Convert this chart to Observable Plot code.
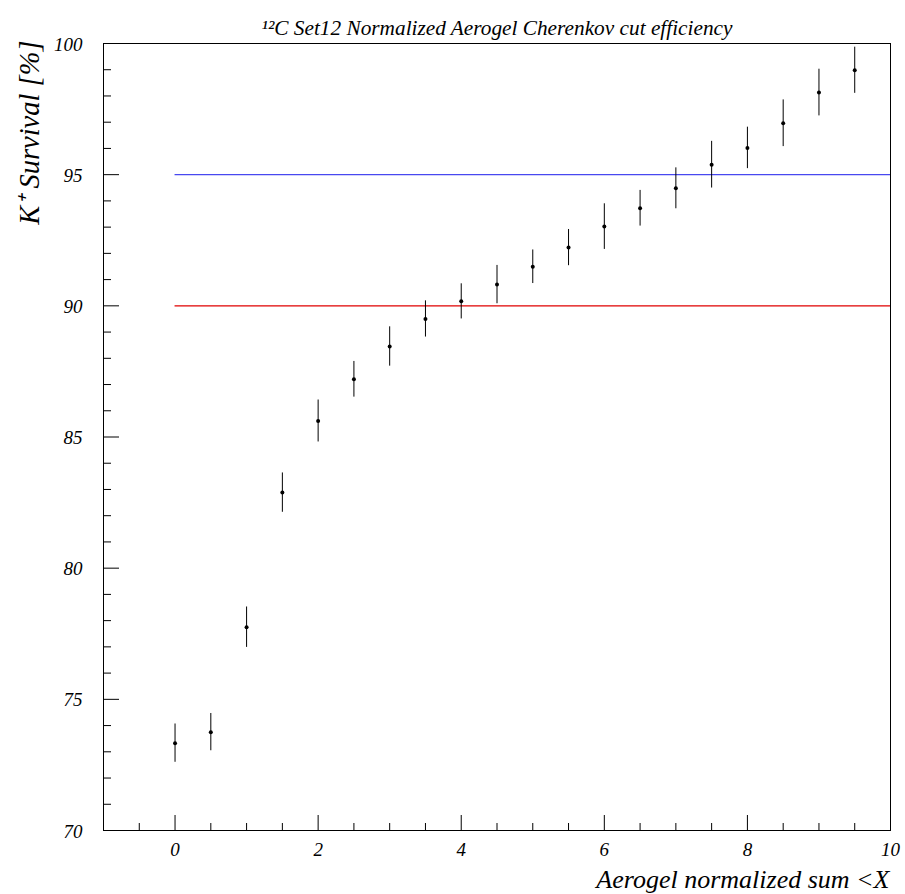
<!DOCTYPE html>
<html><head><meta charset="utf-8">
<script src="https://cdn.jsdelivr.net/npm/d3@7"></script>
<script src="https://cdn.jsdelivr.net/npm/@observablehq/plot@0.6"></script>
<style>
body{margin:0;background:#fff}
#chart svg text{font-family:"Liberation Serif","Times New Roman",Times,serif !important;font-style:italic}
</style>
</head><body><div id="chart"></div>
<script>
const cutX = [0, 0.5, 1, 1.5, 2, 2.5, 3, 3.5, 4, 4.5, 5, 5.5, 6, 6.5, 7, 7.5, 8, 8.5, 9, 9.5];
const survival = [73.33, 73.75, 77.75, 82.88, 85.61, 87.20, 88.45, 89.50, 90.17, 90.81, 91.49, 92.22, 93.02, 93.72, 94.48, 95.38, 96.02, 96.96, 98.13, 98.98];
const survivalErr = [0.73, 0.71, 0.77, 0.75, 0.80, 0.68, 0.75, 0.69, 0.67, 0.73, 0.64, 0.69, 0.87, 0.68, 0.78, 0.89, 0.79, 0.89, 0.89, 0.88];
const xMajorTicks = [0, 2, 4, 6, 8, 10];
const xMinorTicks = [-0.5, 0.5, 1, 1.5, 2.5, 3, 3.5, 4.5, 5, 5.5, 6.5, 7, 7.5, 8.5, 9, 9.5];
const yMajorTicks = [70, 75, 80, 85, 90, 95, 100];
const yMinorTicks = [71, 72, 73, 74, 76, 77, 78, 79, 81, 82, 83, 84, 86, 87, 88, 89, 91, 92, 93, 94, 96, 97, 98, 99];
const lowerLine = [90];
const upperLine = [95];
const titleText = "¹²C Set12 Normalized Aerogel Cherenkov cut efficiency";
const xLabel = "Aerogel normalized sum <X";
const yLabel = "K⁺ Survival [%]";

const data = cutX.map((x, i) => ({x, y: survival[i], e: survivalErr[i]}));
const W = 905, H = 894, mt = 43, mb = 64, ml = 103, mr = 15;
const plotH = H - mt - mb;
const plotW = W - ml - mr;
const font = "'Liberation Serif', 'Times New Roman', Times, serif";

const chart = Plot.plot({
  width: W, height: H,
  marginTop: mt, marginBottom: mb, marginLeft: ml, marginRight: mr,
  x: {domain: [-1, 10], axis: null},
  y: {domain: [70, 100], axis: null},
  style: {fontFamily: font, fontStyle: "italic", background: "#fff", color: "#000"},
  marks: [
    Plot.ruleY(lowerLine, {y: d => d, x1: 0, x2: 10, stroke: "#e00000", strokeWidth: 1.2}),
    Plot.ruleY(upperLine, {y: d => d, x1: 0, x2: 10, stroke: "#4848f0", strokeWidth: 1.2}),
    Plot.ruleX(data, {x: "x", y1: d => d.y - d.e, y2: d => d.y + d.e, stroke: "#000", strokeWidth: 1}),
    Plot.dot(data, {x: "x", y: "y", r: 2, fill: "#000", stroke: null}),
    Plot.tickX(xMajorTicks, {x: d => d, insetTop: plotH - 15, stroke: "#000"}),
    Plot.tickX(xMinorTicks, {x: d => d, insetTop: plotH - 7, stroke: "#000"}),
    Plot.tickY(yMajorTicks, {y: d => d, insetRight: plotW - 16, stroke: "#000"}),
    Plot.tickY(yMinorTicks, {y: d => d, insetRight: plotW - 8, stroke: "#000"}),
    Plot.frame({stroke: "#000", strokeWidth: 1}),
    Plot.text(xMajorTicks, {x: d => d, text: d => String(d), frameAnchor: "bottom", lineAnchor: "bottom", dy: 25, fontSize: 19}),
    Plot.text(yMajorTicks, {y: d => d, text: d => String(d), frameAnchor: "left", textAnchor: "end", lineAnchor: "middle", dx: -21, dy: 1, fontSize: 19}),
    Plot.text([titleText], {text: d => d, frameAnchor: "top", lineAnchor: "bottom", dy: -9, fontSize: 21.3}),
    Plot.text([xLabel], {text: d => d, frameAnchor: "bottom-right", textAnchor: "end", lineAnchor: "bottom", dx: -1, dy: 57, fontSize: 26}),
    Plot.text([yLabel], {text: d => d, frameAnchor: "top-left", textAnchor: "end", lineAnchor: "bottom", rotate: -90, dx: -65, dy: -3, fontSize: 28.5})
  ]
});
document.getElementById("chart").appendChild(chart);
</script>
</body></html>
